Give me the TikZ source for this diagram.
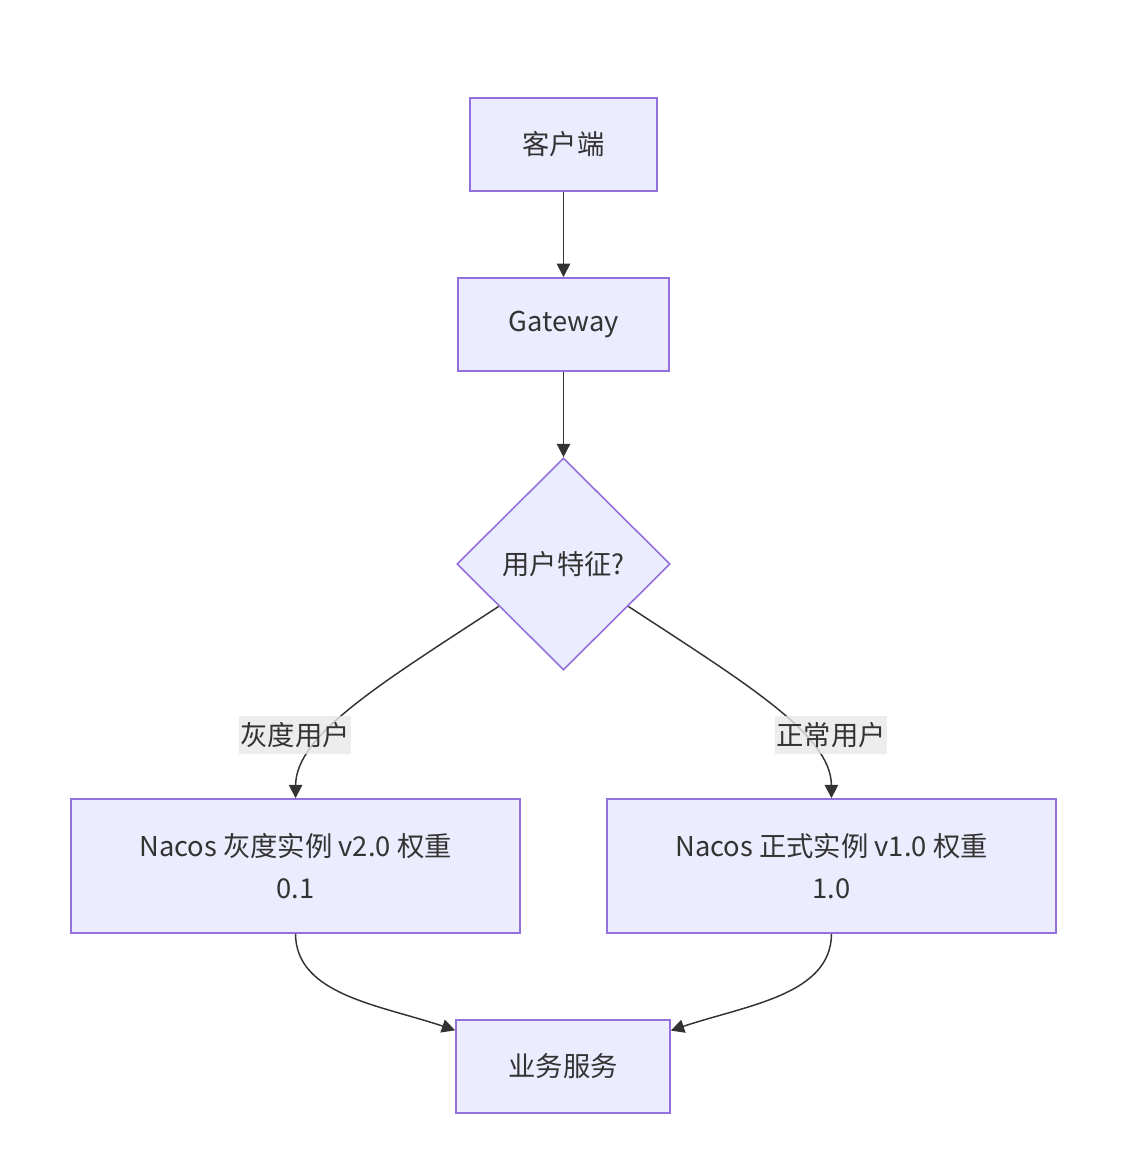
\documentclass[tikz,border=0pt]{standalone}
\usepackage{fontspec}
\setmainfont{Noto Sans CJK SC}
\usepackage{tikz}
\usetikzlibrary{arrows.meta,shapes.geometric}
\definecolor{boxfill}{HTML}{ECECFF}
\definecolor{boxline}{HTML}{9370DB}
\definecolor{edgeline}{HTML}{333333}
\definecolor{lblgray}{HTML}{E8E8E8}
\tikzset{
  box/.style={rectangle,draw=boxline,fill=boxfill,line width=1.2pt,
              inner sep=0pt,text=edgeline,align=center},
  decision/.style={diamond,draw=boxline,fill=boxfill,line width=1.2pt,
              inner sep=0pt,aspect=1,minimum width=160pt,minimum height=159pt,text=edgeline},
  lbl/.style={rectangle,fill=lblgray,fill opacity=0.8,text opacity=1,text=edgeline,
              inner xsep=1pt,inner ysep=0pt,minimum height=29pt}
}
\begin{document}
\begin{tikzpicture}[x=0.75pt,y=-0.75pt,->,>={Triangle[length=10pt,width=10pt]},
                    line width=1.1pt,draw=edgeline,
                    font=\fontsize{20.5pt}{31pt}\selectfont]

  \useasboundingbox (0,0) rectangle (1136,1153);

  \node[box,minimum width=140pt,minimum height=70pt] (A) at (563.5,144.5) {客户端};
  \node[box,minimum width=158pt,minimum height=70pt] (B) at (563.5,324.5) {Gateway};
  \node[decision] (C) at (563.5,564) {用户特征?};
  \node[box,minimum width=337pt,minimum height=100.5pt] (D) at (295.5,866)
        {Nacos 灰度实例 v2.0 权重\\0.1};
  \node[box,minimum width=337pt,minimum height=100.5pt] (E) at (831.5,866)
        {Nacos 正式实例 v1.0 权重\\1.0};
  \node[box,minimum width=160.5pt,minimum height=70pt] (F) at (563,1066.5) {业务服务};

  \draw (A) -- (B);
  \draw (B) -- (C);
  \draw (C) .. controls (380,684) and (296,735) .. (D.north);
  \draw (C) .. controls (747,684) and (831,735) .. (E.north);
  \draw (D.south) .. controls (296,995) and (380,1005) .. (F);
  \draw (E.south) .. controls (831,995) and (747,1005) .. (F);

  \node[lbl] (G1) at (295,735) {灰度用户};
  \node[lbl] (G2) at (831,735) {正常用户};

\end{tikzpicture}
\end{document}
